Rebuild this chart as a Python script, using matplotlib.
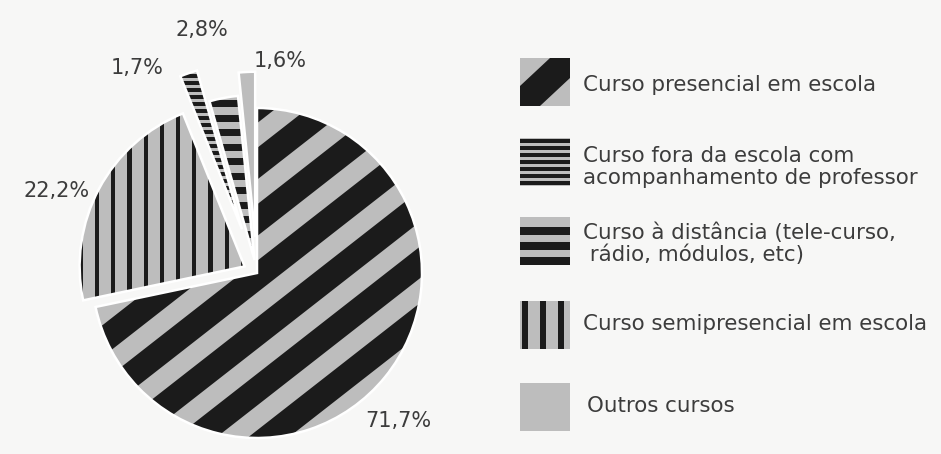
import numpy as np
import matplotlib
matplotlib.use("Agg")
import matplotlib.pyplot as plt
from matplotlib.collections import PolyCollection
from matplotlib.patches import Rectangle, Wedge

# ---- data ----
categories = [
    "Curso presencial em escola",
    "Curso semipresencial em escola",
    "Curso fora da escola com\nacompanhamento de professor",
    "Curso à distância (tele-curso,\n rádio, módulos, etc)",
    "Outros cursos",
]
values = [71.7, 22.2, 1.7, 2.8, 1.6]
value_labels = ["71,7%", "22,2%", "1,7%", "2,8%", "1,6%"]
legend_order = [0, 2, 3, 1, 4]

# ---- style ----
W, H = 941, 454
BG = "#f7f7f6"
GRAY = "#bdbdbd"
BLACK = "#1b1b1b"
TXT = "#3c3c3c"
R_PX = 165.0
CX, CY = 257.0, 273.0   # pie centre in pixels (y from top)
explode = [0.0, 0.085, 0.28, 0.08, 0.22]

plt.rcParams['font.family'] = ['DejaVu Sans']

fig = plt.figure(figsize=(W / 100, H / 100), dpi=100, facecolor=BG)
ax = fig.add_axes([0, 0, 1, 1])
ax.set_facecolor(BG)

wedges, _ = ax.pie(values, startangle=90, counterclock=False, radius=1.0,
                   explode=explode, colors=[GRAY] * 5,
                   wedgeprops=dict(edgecolor="none", linewidth=0))
ax.set_xlim(-CX / R_PX, (W - CX) / R_PX)
ax.set_ylim(-(H - CY) / R_PX, CY / R_PX)
ax.axis("off")
for w in wedges:
    w.set_clip_on(True)


def stripes(axis, clip, angle_deg, period, black, phase, span=3.0):
    a = np.deg2rad(angle_deg)
    d = np.array([np.cos(a), np.sin(a)])
    n = np.array([-np.sin(a), np.cos(a)])
    polys = []
    k0 = int(np.floor(-span / period)) - 1
    k1 = int(np.ceil(span / period)) + 1
    for k in range(k0, k1 + 1):
        u0 = phase + k * period
        u1 = u0 + black
        polys.append([u0 * n - span * d, u0 * n + span * d,
                      u1 * n + span * d, u1 * n - span * d])
    pc = PolyCollection(polys, facecolor=BLACK, edgecolor="none", zorder=2)
    axis.add_collection(pc)
    pc.set_clip_path(clip)
    return pc


s = 1.0 / R_PX
# main slice: diagonal bands
stripes(ax, wedges[0], 38, 44.5 * s, 25 * s, 29 * s)
# semipresencial: vertical lines
stripes(ax, wedges[1], 90, 16.2 * s, 4.2 * s, (257 - 95) * s - 4.2 * s)
# fora da escola: thin horizontal lines
stripes(ax, wedges[2], 0, 7.0 * s, 3.8 * s, (273 - 78) * s)
# distancia: thick horizontal lines
stripes(ax, wedges[3], 0, 14.5 * s, 7.0 * s, (273 - 107) * s)

# white outlines over the stripes
for w in wedges:
    ax.add_patch(Wedge(w.center, w.r, w.theta1, w.theta2, fill=False,
                       edgecolor="white", linewidth=1.8, zorder=3))

# percentage labels (pixel positions)
label_px = [(398, 421), (57, 191), (137, 68), (202, 30), (280, 61)]
for lab, (px, py) in zip(value_labels, label_px):
    ax.text((px - CX) / R_PX, (CY - py) / R_PX, lab, ha="center", va="center",
            fontsize=15, color=TXT)

# ---- legend (pixel coordinates) ----
lax = fig.add_axes([0, 0, 1, 1], facecolor="none")
lax.set_xlim(0, W)
lax.set_ylim(H, 0)
lax.axis("off")

box_x, box_w, box_h = 520, 50, 48
centers = [82, 162, 241, 325, 407]
text_y = [85, 167, 244, 324, 406]
text_x = [583, 583, 583, 583, 587]


def legend_box(yc, kind):
    y0 = yc - box_h / 2
    y1 = y0 + box_h
    rect = Rectangle((box_x, y0), box_w, box_h, facecolor=GRAY, edgecolor="none")
    lax.add_patch(rect)
    polys = []
    if kind == "diag":
        o = 20
        polys.append([(box_x, y1), (box_x, y1 - o), (box_x + box_w - o, y0),
                      (box_x + box_w, y0), (box_x + box_w, y0 + o), (box_x + o, y1)])
    elif kind == "thin":
        yy = y0 + 1
        while yy < y1:
            polys.append([(box_x, yy), (box_x + box_w, yy),
                          (box_x + box_w, yy + 3.6), (box_x, yy + 3.6)])
            yy += 7.0
    elif kind == "thick":
        yy = y0 + 10
        while yy < y1:
            polys.append([(box_x, yy), (box_x + box_w, yy),
                          (box_x + box_w, yy + 8), (box_x, yy + 8)])
            yy += 15
    elif kind == "vert":
        xx = box_x + 2
        while xx < box_x + box_w:
            polys.append([(xx, y0), (xx + 6, y0), (xx + 6, y1), (xx, y1)])
            xx += 18
    if polys:
        pc = PolyCollection(polys, facecolor=BLACK, edgecolor="none")
        lax.add_collection(pc)
        pc.set_clip_path(rect)


kinds = {0: "diag", 1: "vert", 2: "thin", 3: "thick", 4: "solid"}
for i, idx in enumerate(legend_order):
    legend_box(centers[i], kinds[idx])
    lax.text(text_x[i], text_y[i], categories[idx], ha="left", va="center",
             fontsize=15.4, color=TXT, linespacing=1.08)

fig.savefig("out.png", dpi=100, facecolor=BG)
